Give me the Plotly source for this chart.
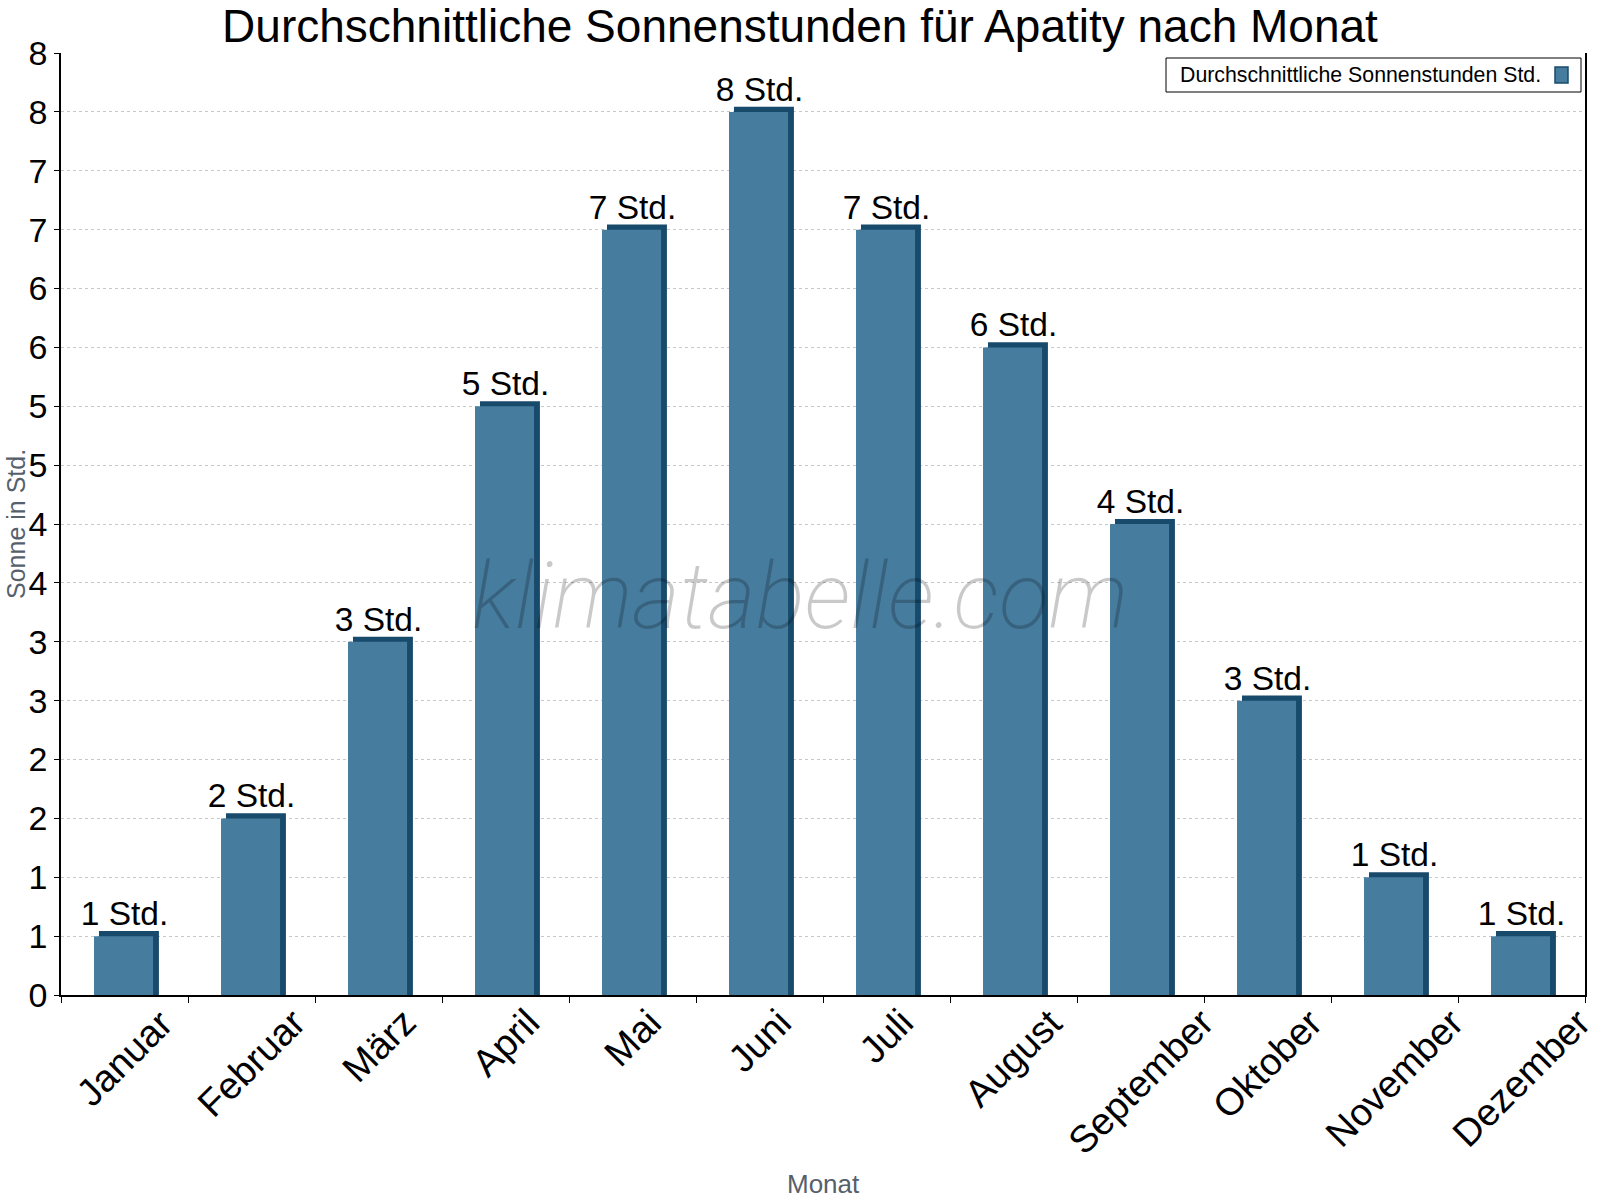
import plotly.graph_objects as go

months = ["Januar", "Februar", "März", "April", "Mai", "Juni", "Juli",
          "August", "September", "Oktober", "November", "Dezember"]
sun_hours = [0.5, 1.5, 3.0, 5.0, 6.5, 7.5, 6.5, 5.5, 4.0, 2.5, 1.0, 0.5]
bar_labels = ["1 Std.", "2 Std.", "3 Std.", "5 Std.", "7 Std.", "8 Std.",
              "7 Std.", "6 Std.", "4 Std.", "3 Std.", "1 Std.", "1 Std."]
y_tickvals = [0, 0.5, 1, 1.5, 2, 2.5, 3, 3.5, 4, 4.5, 5, 5.5, 6, 6.5, 7, 7.5, 8]
y_ticktext = ["0", "1", "1", "2", "2", "3", "3", "4", "4", "5", "5", "6", "6",
              "7", "7", "8", "8"]

FRONT = "#467C9E"
DARK = "#184A6B"
FONT = "Liberation Sans, Arial, sans-serif"
CAP = 0.043   # depth of the pseudo-3D top cap in y units
LABEL_LIFT = 0.008

# geometry of the plot area (pixels)
L, R, T, B = 61, 1585, 53, 995
PW, PH = R - L, B - T

def px(x):
    return (x - L) / PW

def py(y):
    return (B - y) / PH

fig = go.Figure()

# dark "depth" bar behind
fig.add_trace(go.Bar(
    x=months, y=[v + CAP for v in sun_hours],
    width=0.472, offset=-0.201,
    marker=dict(color=DARK, line=dict(width=0)),
    showlegend=False, hoverinfo="skip",
))
# front face
fig.add_trace(go.Bar(
    x=months, y=sun_hours,
    width=0.465, offset=-0.240,
    marker=dict(color=FRONT, line=dict(width=0)),
    name="Durchschnittliche Sonnenstunden Std.",
    showlegend=False,
))
# invisible bar carrying the value labels
fig.add_trace(go.Bar(
    x=months, y=[v + LABEL_LIFT for v in sun_hours],
    width=0.5, offset=-0.25,
    marker=dict(color="rgba(0,0,0,0)", line=dict(width=0)),
    text=bar_labels, textposition="outside", constraintext="none",
    textfont=dict(family=FONT, size=33.5, color="#000000"),
    cliponaxis=False,
    showlegend=False, hoverinfo="skip",
))

# rotated month labels, centred under each category (bounding box top-centre)
month_annotations = [
    dict(text=m, xref="x", yref="paper", x=m, y=py(1000),
         xanchor="center", yanchor="top", textangle=-45, showarrow=False,
         borderpad=0,
         font=dict(family=FONT, size=38, color="#000000"))
    for m in months
]

fig.update_layout(
    width=1600, height=1200,
    barmode="overlay",
    plot_bgcolor="white", paper_bgcolor="white",
    margin=dict(l=L, r=1600 - R, t=T, b=1200 - B, autoexpand=False),
    font=dict(family=FONT, color="#000000"),
    title=dict(
        text="Durchschnittliche Sonnenstunden für Apatity nach Monat",
        font=dict(family=FONT, size=46, color="#000000"),
        x=0.5, xref="container", xanchor="center",
        y=1 - 26 / 1200, yref="container", yanchor="middle",
    ),
    xaxis=dict(
        type="category", range=[-0.5, len(months) - 0.5], autorange=False,
        showline=True, linecolor="#000000", linewidth=1.5,
        ticks="outside", ticklen=6, tickcolor="#000000", tickson="boundaries",
        showticklabels=False,
        showgrid=False, zeroline=False,
    ),
    yaxis=dict(
        range=[0, 8], autorange=False,
        tickmode="array", tickvals=y_tickvals, ticktext=y_ticktext,
        showline=True, linecolor="#000000", linewidth=1.5, mirror=True,
        ticks="outside", ticklen=5, tickcolor="#000000",
        tickfont=dict(family=FONT, size=34, color="#000000"),
        showgrid=True, gridcolor="#C8C8C8", griddash="dot", gridwidth=1,
        zeroline=False,
    ),
    annotations=month_annotations + [
        dict(text="klimatabelle.com", xref="paper", yref="paper",
             x=px(800), y=py(596), xanchor="center", yanchor="middle",
             showarrow=False,
             font=dict(family="Roboto, Liberation Sans, sans-serif", size=92,
                       weight=200, style="italic", color="rgba(0,0,0,0.21)")),
        dict(text="Durchschnittliche Sonnenstunden Std.", xref="paper", yref="paper",
             x=px(1178), y=py(75), xanchor="left", yanchor="middle",
             showarrow=False,
             font=dict(family=FONT, size=21.3, color="#000000")),
        dict(text="Monat", xref="paper", yref="paper",
             x=px(823), y=py(1184), xanchor="center", yanchor="middle",
             showarrow=False,
             font=dict(family=FONT, size=26, color="#56606B")),
        dict(text="Sonne in Std.", xref="paper", yref="paper",
             x=px(16), y=0.5, xanchor="center", yanchor="middle", textangle=-90,
             showarrow=False,
             font=dict(family=FONT, size=25, color="#56606B")),
    ],
    shapes=[
        dict(type="rect", xref="paper", yref="paper",
             x0=px(1166), x1=px(1581), y0=py(92), y1=py(58),
             line=dict(color="#000000", width=1), fillcolor="white", layer="above"),
        dict(type="rect", xref="paper", yref="paper",
             x0=px(1555), x1=px(1568), y0=py(83), y1=py(67),
             line=dict(color=DARK, width=1.5), fillcolor=FRONT, layer="above"),
    ],
)

fig.write_html("out.html")
